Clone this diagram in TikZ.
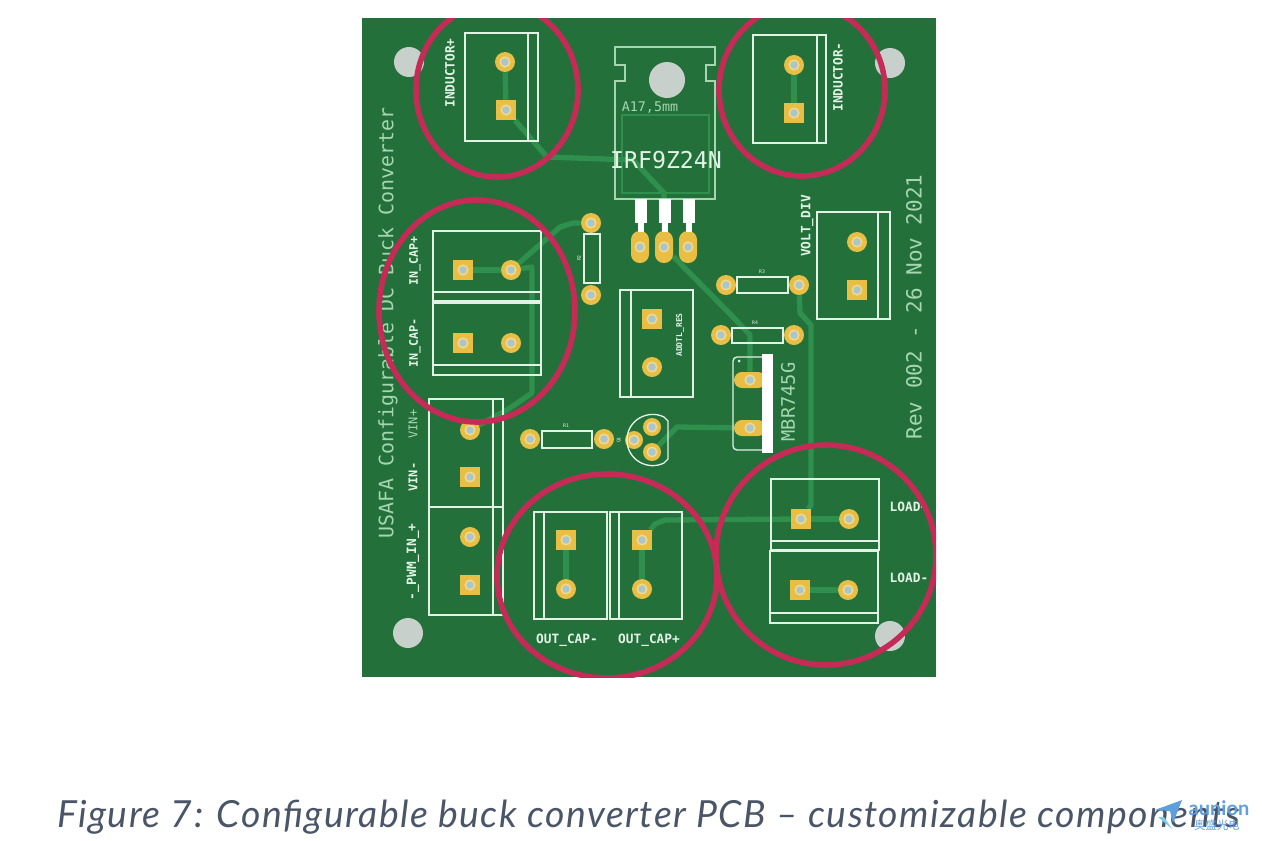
\documentclass[tikz,border=0pt]{standalone}
\usepackage{fontspec}
\setmonofont{DejaVu Sans Mono}
\setsansfont{Lato}
\newfontfamily\captionfont[LetterSpace=4]{Lato}
\newfontfamily\cjkfont{Noto Sans CJK SC}
\definecolor{boardgreen}{HTML}{23703A}
\definecolor{copper}{HTML}{2F8F4C}
\definecolor{silkwhite}{HTML}{E2F2E4}
\definecolor{silkgreen}{HTML}{A6D6B0}
\definecolor{padgold}{HTML}{E8BE45}
\definecolor{padhalo}{HTML}{EFD88F}
\definecolor{padhole}{HTML}{A9C6CC}
\definecolor{drillgrey}{HTML}{C8D0CC}
\definecolor{markred}{HTML}{C62A56}
\definecolor{captiongrey}{HTML}{4A5568}
\definecolor{logoblue}{HTML}{5F9FDC}
\definecolor{logocyan}{HTML}{7CCBE8}
\pgfdeclarelayer{copperlayer}
\pgfdeclarelayer{marklayer}
\pgfsetlayers{copperlayer,main,marklayer}
\tikzset{
  padbase/.style={draw=none,fill=padgold,inner sep=0pt,path picture={
    \fill[padhalo] (path picture bounding box.center) circle (4.2pt);
    \fill[padhole] (path picture bounding box.center) circle (2.8pt);}},
  padround/.style={padbase,circle,minimum size=15pt},
  padsmall/.style={padbase,circle,minimum size=13.5pt},
  padsquare/.style={padbase,rectangle,minimum size=15pt},
  padtall/.style={padbase,rectangle,rounded corners=6.5pt,minimum width=13.5pt,minimum height=24pt},
  padwide/.style={padbase,rectangle,rounded corners=6pt,minimum width=24pt,minimum height=12pt},
  drill/.style={circle,fill=drillgrey,inner sep=0pt,minimum size=#1},
  trace/.style={draw=copper,line width=4pt,line join=round},
  silk/.style={draw=silkwhite,line width=1pt},
  markring/.style={draw=markred,line width=4.2pt},
  legend/.style={text=silkwhite,font=\fontsize{9.6}{10}\ttfamily\bfseries,rotate=90,inner sep=0pt},
  flatlegend/.style={text=silkwhite,font=\fontsize{9.6}{10}\ttfamily\bfseries,inner sep=0pt},
  tiny/.style={text=silkwhite,font=\fontsize{3.6}{4}\ttfamily,inner sep=0pt},
  boardtext/.style={text=silkgreen,font=\fontsize{#1}{#1}\ttfamily,inner sep=0pt},
}
\begin{document}
\begin{tikzpicture}[x=0.75pt,y=-0.75pt]
\useasboundingbox (0,0) rectangle (1262,840);
% pads
\foreach \name/\x/\y in {indpa/505/62,indma/794/65,incapa/511/270,incapb/511/343,rtwoa/591/223,rtwob/591/295,
  rthreea/726/285,rthreeb/799/285,
  rfoura/721/335,rfourb/794/335,addtlb/652/367,voltb/857/242,vina/470/430,pwma/470/537,
  ronea/530/439,roneb/604/439,outma/566/589,outpa/642/589,loada/849/519,loadb/848/590}
  {\node[padround] (\name) at (\x,\y) {};}
\foreach \name/\x/\y in {indps/506/110,indms/794/113,incaps/463/270,incapt/463/343,addtls/652/319,volts/857/290,
  vins/470/477,pwms/470/585,outms/566/540,outps/642/540,loads/801/519,loadt/800/590}
  {\node[padsquare] (\name) at (\x,\y) {};}
\foreach \name/\x in {fetg/640,fetd/664,fets/688}
  {\node[padtall] (\name) at (\x,247) {};}
\node[padwide] (diodea) at (750,380) {};
\node[padwide] (diodeb) at (750,428) {};
\node[padsmall] (qa) at (652,427) {};
\node[padsmall] (qb) at (634,440) {};
\node[padsmall] (qc) at (652,452) {};
% mounting holes
\node[drill=22.5pt] (holea) at (409,62) {};
\node[drill=22.5pt] (holeb) at (890,63) {};
\node[drill=22.5pt] (holec) at (408,633) {};
\node[drill=22.5pt] (holed) at (890,636) {};
\node[drill=27pt] (holefet) at (667,80) {};
% board and copper
\begin{pgfonlayer}{copperlayer}
\fill[boardgreen] (362,18) rectangle (936,677);
\draw[trace] (indpa) -- (indps);
\draw[trace] (indma) -- (indms);
\draw[trace] (indps) -- (547,157) -- (633,160) -- (664,193) -- (fetd);
\draw[trace] (incaps) -- (incapa);
\draw[trace] (incapa) -- (560,227) -- (573,223) -- (rtwoa);
\draw[trace] (incapa) -- (532,267) -- (532,393) -- (507,410) -- (vina);
\draw[trace] (fetd) -- (733,317) -- (750,335) -- (diodea);
\draw[trace] (rthreeb) -- (800,313) -- (811,325) -- (811,505) -- (loads);
\draw[trace] (qc) -- (668,436) -- (677,427) -- (diodeb);
\draw[trace] (outms) -- (outma);
\draw[trace] (outps) -- (outpa);
\draw[trace] (outps) -- (655,524) -- (665,520) -- (loads);
\draw[trace] (loads) -- (loada);
\draw[trace] (loadt) -- (loadb);
\end{pgfonlayer}
% terminal blocks
\draw[silk] (465,33) rectangle (538,141) (528,33) -- (528,141);
\draw[silk] (753,35) rectangle (826,143) (817,35) -- (817,143);
\draw[silk] (433,231) rectangle (541,301) (433,292) -- (541,292);
\draw[silk] (433,303) rectangle (541,375) (433,365) -- (541,365);
\draw[silk] (620,290) rectangle (693,397) (631,290) -- (631,397);
\draw[silk] (817,212) rectangle (890,319) (878,212) -- (878,319);
\draw[silk] (429,399) rectangle (503,507) (493,399) -- (493,507);
\draw[silk] (429,507) rectangle (503,615) (493,507) -- (493,615);
\draw[silk] (534,512) rectangle (607,619) (544,512) -- (544,619);
\draw[silk] (610,512) rectangle (682,619) (619,512) -- (619,619);
\draw[silk] (771,479) rectangle (879,550) (771,541) -- (879,541);
\draw[silk] (770,551) rectangle (878,623) (770,613) -- (878,613);
% resistors
\draw[silk] (584,234) rectangle (600,283);
\draw[silk] (737,277) rectangle (788,293);
\draw[silk] (732,328) rectangle (783,343);
\draw[silk] (542,431) rectangle (592,448);
% mosfet
\draw[silkgreen,line width=1.1pt] (615,47) -- (715,47) -- (715,65) -- (706,65) -- (706,81) -- (715,81) -- (715,199) -- (615,199)
  -- (615,81) -- (625,81) -- (625,65) -- (615,65) -- cycle;
\draw[copper,line width=1pt] (622,115) rectangle (709,193);
\foreach \x in {641,665,689}
  {\fill[white] (\x-6,199) rectangle (\x+6,223);
   \fill[white] (\x-3,223) rectangle (\x+3,232);}
% diode and transistor
\draw[silk,rounded corners=3pt] (762,357) -- (733,357) -- (733,450) -- (762,450);
\fill[white] (762,354) rectangle (773,453);
\fill[silkwhite] (739,361) circle (1.5);
\draw[silk] (664,417) .. controls (648,409) and (627,420) .. (627,440) .. controls (627,460) and (648,471) .. (664,463) -- (668,459) -- (668,421) -- cycle;
% board texts
\node[legend] (lblindp) at (450,73) {INDUCTOR+};
\node[legend] (lblindm) at (838,77) {INDUCTOR-};
\node[legend,font=\fontsize{8.8}{10}\ttfamily\bfseries] (lblcapp) at (415,261) {IN\_CAP+};
\node[legend,font=\fontsize{8.8}{10}\ttfamily\bfseries] (lblcapm) at (415,343) {IN\_CAP-};
\node[legend,text=silkgreen,font=\fontsize{9}{10}\ttfamily] (lblvinp) at (413,424) {VIN+};
\node[legend,font=\fontsize{9}{10}\ttfamily\bfseries] (lblvinm) at (413,477) {VIN-};
\node[legend] (lblpwm) at (413,562) {-\_PWM\_IN\_+};
\node[legend] (lblvolt) at (807,226) {VOLT\_DIV};
\node[legend,font=\fontsize{6}{7}\ttfamily\bfseries] (lbladd) at (680,335) {ADDTL\_RES};
\node[flatlegend] (lbloutm) at (567,640) {OUT\_CAP-};
\node[flatlegend] (lbloutp) at (649,640) {OUT\_CAP+};
\node[flatlegend] (lblloadp) at (909,507) {LOAD+};
\node[flatlegend] (lblloadm) at (909,578) {LOAD-};
\node[tiny,rotate=90] (lblrtwo) at (579,258) {R2};
\node[tiny] (lblrthree) at (762,272) {R3};
\node[tiny] (lblrfour) at (755,323) {R4};
\node[tiny] (lblrone) at (566,426) {R1};
\node[tiny,rotate=90] (lblq) at (619,440) {Q1};
\node[boardtext=10] (lblpkg) at (650,108) {A17,5mm};
\node[boardtext=17.4,text=silkwhite] (lblfet) at (666,160) {IRF9Z24N};
\node[boardtext=14,rotate=90] (lbldiode) at (788,402) {MBR745G};
\node[boardtext=15.7,rotate=90] (lblrev) at (914,307) {Rev 002 - 26 Nov 2021};
\node[boardtext=14.9,rotate=90] (lbltitle) at (388,323) {USAFA Configurable DC Buck Converter};
% red marks
\begin{pgfonlayer}{marklayer}
\begin{scope}
\clip (362,18) rectangle (936,677);
\draw[markring] (497,90) circle [x radius=81,y radius=87];
\draw[markring] (802,90) circle [x radius=83,y radius=86];
\draw[markring] (477,311) circle [x radius=98,y radius=111];
\draw[markring] (607,576) circle [x radius=110,y radius=102];
\draw[markring] (826,555) circle [x radius=110,y radius=110];
\end{scope}
\end{pgfonlayer}
% caption and logo
\node[anchor=west,inner sep=0pt,text=captiongrey,font=\fontsize{28}{30}\captionfont\itshape] (caption) at (57,817) {Figure 7: Configurable buck converter PCB – customizable components};
\fill[logoblue] (1155,810) -- (1182,800) -- (1173,823) -- (1170,811) -- cycle;
\fill[logocyan] (1158,817) -- (1164,817) -- (1172,829) -- cycle;
\node[inner sep=0pt,text=logoblue,font=\fontsize{15}{16}\sffamily\bfseries] (logotext) at (1219,808) {aunion};
\node[inner sep=0pt,text=logoblue,font=\fontsize{8.5}{9}\cjkfont] (logocjk) at (1217,825) {奥盛光电};
\end{tikzpicture}
\end{document}
